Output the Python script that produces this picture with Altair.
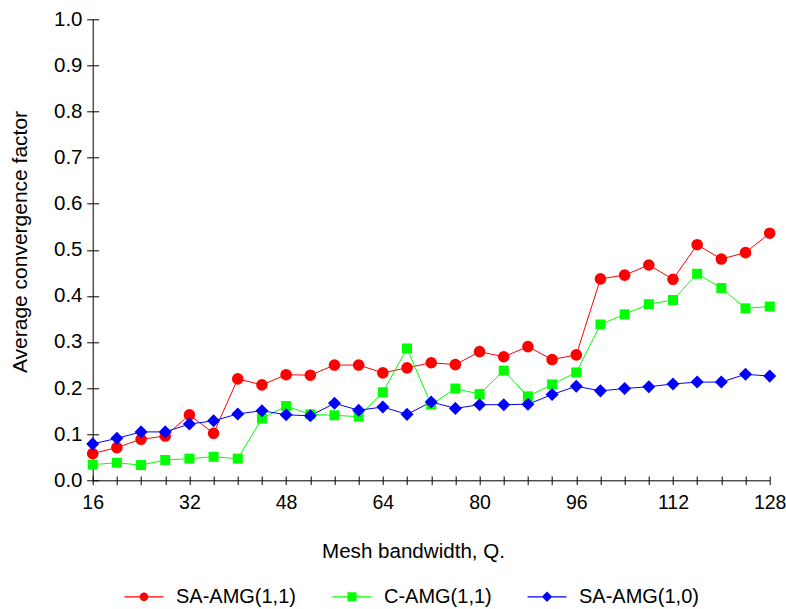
import altair as alt
import pandas as pd

# Mesh bandwidth Q (one sample every 4)
q = [16, 20, 24, 28, 32, 36, 40, 44, 48, 52, 56, 60, 64, 68, 72,
     76, 80, 84, 88, 92, 96, 100, 104, 108, 112, 116, 120, 124, 128]

# Average convergence factor per solver
sa_amg_11 = [0.058, 0.071, 0.089, 0.096, 0.142, 0.102, 0.220, 0.207, 0.229, 0.228,
             0.250, 0.250, 0.233, 0.244, 0.255, 0.251, 0.279, 0.268, 0.290, 0.262,
             0.272, 0.437, 0.445, 0.467, 0.436, 0.511, 0.480, 0.494, 0.536]
c_amg_11 = [0.034, 0.038, 0.033, 0.044, 0.047, 0.051, 0.047, 0.134, 0.161, 0.143,
            0.141, 0.138, 0.191, 0.286, 0.164, 0.199, 0.187, 0.238, 0.182, 0.208,
            0.234, 0.338, 0.360, 0.382, 0.391, 0.448, 0.417, 0.373, 0.377]
sa_amg_10 = [0.079, 0.091, 0.105, 0.105, 0.122, 0.129, 0.144, 0.151, 0.142, 0.140,
             0.167, 0.152, 0.159, 0.143, 0.170, 0.156, 0.164, 0.164, 0.165, 0.186,
             0.204, 0.194, 0.199, 0.203, 0.209, 0.213, 0.213, 0.230, 0.226]

series = ["SA-AMG(1,1)", "C-AMG(1,1)", "SA-AMG(1,0)"]
colors = ["#ff0000", "#00ff00", "#0000ff"]
shapes = ["circle", "square", "diamond"]
marker_sizes = [135, 100, 170]

y_ticks = [0.0, 0.1, 0.2, 0.3, 0.4, 0.5, 0.6, 0.7, 0.8, 0.9, 1.0]

# Legend glyphs: a short line with the series marker in its middle
legend_paths = [
    "M-4.33,-0.13V0.13H4.33V-0.13Z M-0.97,0A0.97,0.97 0 1,0 0.97,0A0.97,0.97 0 1,0 -0.97,0Z",
    "M-4.33,-0.13V0.13H4.33V-0.13Z M-1,-1V1H1V-1Z",
    "M-4.33,-0.13V0.13H4.33V-0.13Z M-1.15,0L0,1.15L1.15,0L0,-1.15Z",
]

FONT = "Liberation Sans"

rows = []
for name, vals in zip(series, [sa_amg_11, c_amg_11, sa_amg_10]):
    for qq, v in zip(q, vals):
        rows.append({"Q": qq, "factor": v, "series": name})
df = pd.DataFrame(rows)

x_scale = alt.Scale(domain=[16, 128], nice=False, zero=False)
y_scale = alt.Scale(domain=[0, 1], nice=False, zero=False)
color_scale = alt.Scale(domain=series, range=colors)

x_main = alt.Axis(
    values=q, labelExpr="datum.value % 16 === 0 ? datum.label : ''", format="d",
    tickSize=4.3, tickColor="black", tickWidth=1, domainColor="black", domainWidth=1,
    labelFont=FONT, labelFontSize=19.5, labelColor="black", labelPadding=8.5,
    labelFlush=False, labelOverlap=False, grid=False,
    title="Mesh bandwidth, Q.", titleFont=FONT, titleFontSize=20.6, titleFontWeight="normal",
    titleColor="black", titleX=320.3, titleY=71, titleAlign="center", titleBaseline="middle",
    orient="bottom",
)
y_main = alt.Axis(
    values=y_ticks, format=".1f",
    tickSize=6, tickColor="black", tickWidth=1, domainColor="black", domainWidth=1,
    labelFont=FONT, labelFontSize=20.5, labelColor="black", labelPadding=4.7,
    labelFlush=False, labelOverlap=False, grid=False,
    title="Average convergence factor", titleFont=FONT, titleFontSize=21,
    titleFontWeight="normal", titleColor="black", titleAngle=270,
    titleX=-66.5, titleY=222.2, titleAlign="center", titleBaseline="alphabetic",
    orient="left",
)
# inward halves of the crossing ticks
x_inner = alt.Axis(values=q, labels=False, domain=False, grid=False, title=None,
                   tickSize=4.3, tickColor="black", tickWidth=1, offset=-4.3, orient="bottom")
y_inner = alt.Axis(values=y_ticks, labels=False, domain=False, grid=False, title=None,
                   tickSize=6, tickColor="black", tickWidth=1, offset=-6, orient="left")

lines = alt.Chart(df).mark_line(strokeWidth=1).encode(
    x=alt.X("Q:Q", scale=x_scale, axis=x_main),
    y=alt.Y("factor:Q", scale=y_scale, axis=y_main),
    color=alt.Color("series:N", scale=color_scale, legend=None),
)

# one marker layer per solver, drawn in series order
marker_layers = []
for i, (name, col, shp, sz) in enumerate(zip(series, colors, shapes, marker_sizes)):
    marker_layers.append(
        alt.Chart(df)
        .transform_filter(alt.datum.series == name)
        .mark_point(filled=True, opacity=1, strokeWidth=0, shape=shp, size=sz, color=col)
        .encode(
            x=alt.X("Q:Q", scale=x_scale, axis=x_inner if i == 0 else None),
            y=alt.Y("factor:Q", scale=y_scale, axis=y_inner if i == 0 else None),
        )
    )

legend_kw = dict(
    title=None, orient="none", legendX=31.3, legendY=567.5, direction="horizontal",
    columns=3, symbolSize=81, symbolStrokeWidth=0, symbolOffset=10, labelOffset=22,
    columnPadding=35, labelFont=FONT, labelFontSize=20, labelColor="black",
    labelLimit=0, padding=0,
)

legend_layer = alt.Chart(df).transform_filter("false").mark_point(
    filled=True, opacity=1, strokeWidth=0
).encode(
    color=alt.Color("series:N", scale=color_scale, legend=alt.Legend(**legend_kw)),
    shape=alt.Shape("series:N", scale=alt.Scale(domain=series, range=legend_paths),
                    legend=alt.Legend(**legend_kw)),
)

chart = (
    alt.layer(lines, *marker_layers, legend_layer)
    .resolve_scale(color="independent", shape="independent")
    .resolve_axis(x="independent", y="independent")
    .properties(
        width=677, height=461,
        autosize=alt.AutoSizeParams(type="none"),
        padding={"left": 92.7, "top": 19.3, "right": 16.3, "bottom": 128},
        background="white",
    )
    .configure_view(stroke=None)
)

chart.save("out.html", embed_options={"renderer": "svg", "actions": False})
